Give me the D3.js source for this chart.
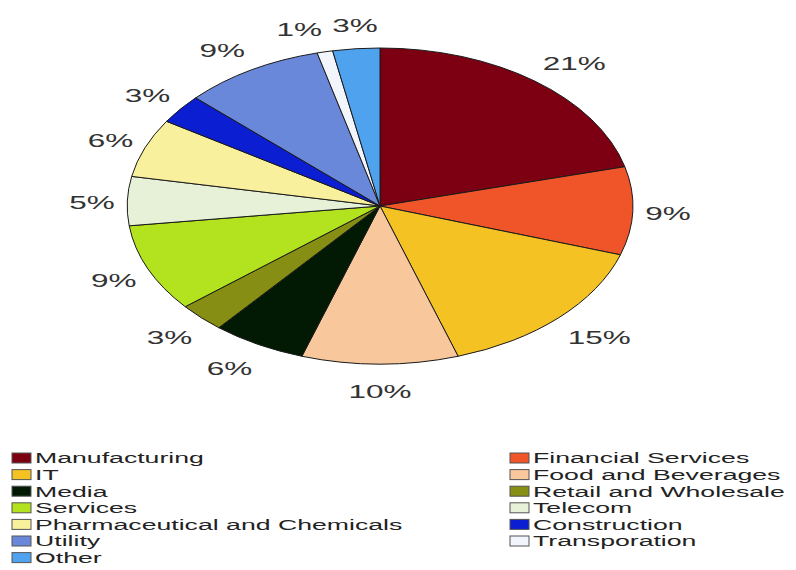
<!DOCTYPE html>
<html>
<head>
<meta charset="utf-8">
<script src="https://cdn.jsdelivr.net/npm/d3@7"></script>
<style>
  html, body { margin: 0; padding: 0; background: #fff; }
  svg { display: block; }
  text { font-family: "Liberation Sans", Arial, Helvetica, sans-serif; }
</style>
</head>
<body>
<svg id="chart" width="796" height="570"></svg>
<script>
// Sector shares (percent), clockwise from 12 o'clock
const sectors = [
  "Manufacturing", "Financial Services", "IT", "Food and Beverages",
  "Media", "Retail and Wholesale", "Services", "Telecom",
  "Pharmaceutical and Chemicals", "Construction", "Utility",
  "Transporation", "Other"
];
const shares = [21, 9, 15, 10, 6, 3, 9, 5, 6, 3, 9, 1, 3];
const colours = [
  "#7d0012", "#f0552a", "#f5c224", "#f8c79c",
  "#021a03", "#878e14", "#b3e31e", "#e6f1d8",
  "#f8f09c", "#0c1ed2", "#6a88da", "#f2f5fc", "#4fa2ee"
];

const svg = d3.select("#chart");
const W = 796;

// The pie is drawn as a circle and widened horizontally into an ellipse
const cx = 380, cy = 206, ry = 158, stretch = 1.6;
const rx = ry * stretch;
const textStretch = 1.72;

const pie = d3.pie().sort(null).value(d => d.value);
const arcs = pie(sectors.map((s, i) => ({ name: s, value: shares[i], colour: colours[i] })));
const arc = d3.arc().innerRadius(0).outerRadius(ry);

const pieG = svg.append("g")
  .attr("transform", `translate(${cx},${cy}) scale(${stretch},1)`);

pieG.selectAll("path")
  .data(arcs)
  .join("path")
  .attr("d", arc)
  .attr("fill", d => d.data.colour)
  .attr("stroke", "#1a1a1a")
  .attr("stroke-width", 1)
  .attr("vector-effect", "non-scaling-stroke");

// Percentage labels outside the rim
const labelG = svg.append("g");
arcs.forEach(d => {
  const a = (d.startAngle + d.endAngle) / 2;
  const s = Math.sin(a), c = Math.cos(a);
  const x = cx + 1.05 * rx * s;
  const y = cy - 1.16 * ry * c + 2;
  const anchor = Math.abs(s) < 0.15 ? "middle" : (s > 0 ? "start" : "end");
  labelG.append("text")
    .attr("transform", `translate(${x},${y}) scale(${textStretch},1)`)
    .attr("text-anchor", anchor)
    .attr("dominant-baseline", "central")
    .attr("font-size", 18.3)
    .attr("fill", "#333")
    .text(d.data.value + "%");
});

// Two-column legend, filled row by row in slice order
const legendTop = 458, rowH = 16.6;
const colX = [12, 510];
const legend = svg.append("g");
arcs.forEach((d, i) => {
  const col = i % 2, row = Math.floor(i / 2);
  const x = colX[col], y = legendTop + row * rowH;
  legend.append("rect")
    .attr("x", x).attr("y", y - 5)
    .attr("width", 19).attr("height", 10)
    .attr("fill", d.data.colour)
    .attr("stroke", "#555")
    .attr("stroke-width", 1);
  legend.append("text")
    .attr("transform", `translate(${x + 23},${y}) scale(${textStretch},1)`)
    .attr("dominant-baseline", "central")
    .attr("font-size", 15.5)
    .attr("fill", "#222")
    .text(d.data.name);
});
</script>
</body>
</html>
